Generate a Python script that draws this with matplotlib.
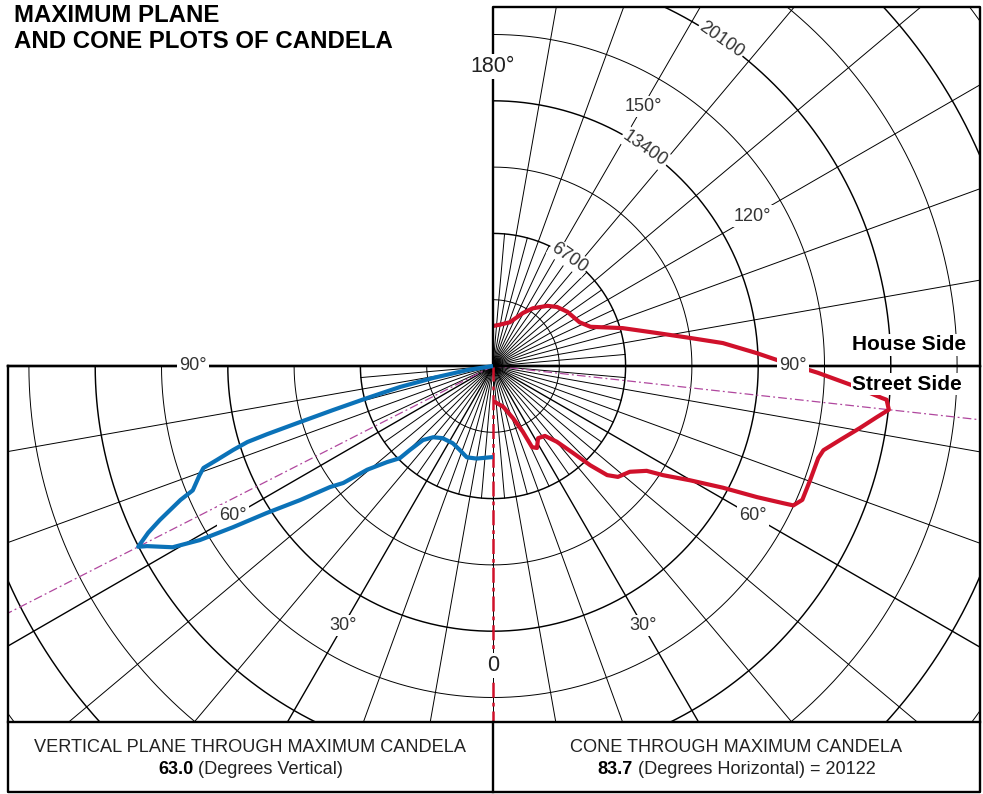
import numpy as np
import matplotlib
matplotlib.use("Agg")
import matplotlib.pyplot as plt
from matplotlib.patches import Rectangle

plt.rcParams['font.family'] = ['Liberation Sans', 'DejaVu Sans']

# vertical plane through maximum candela: degrees vertical (0 = nadir) and candela
plane_deg = [0, 10, 16, 22, 27.5, 35, 40, 43.4, 44.7, 45.3, 47.8, 50.5, 52, 53.4, 55.2, 57,
             58.2, 59.3, 60.5, 62.5, 63, 64.2, 65.2, 66.8, 67.5, 69.6, 70.6, 71.2, 72.1,
             72.8, 73.2, 73.8, 74.6, 75.7, 77.3, 78.7, 81, 90]
plane_cd = [4600, 4750, 4800, 4550, 4400, 4450, 4700, 5150, 5960, 6620, 7230, 8240, 9600,
            10260, 11870, 13640, 15460, 17230, 18600, 19710, 20122, 19350, 18540, 17180,
            16420, 15820, 15510, 14750, 13790, 12990, 11930, 10160, 8390, 6570, 4800, 3080,
            1310, 0]

# cone through maximum candela: degrees horizontal (0 .. 180) and candela
cone_deg = [0, 3, 14, 21, 24.4, 25.7, 28.2, 32, 36.6, 40.1, 42.6, 44.4, 46.3, 48.4, 52.3,
            55.7, 57.3, 59.9, 62.1, 63.6, 64.7, 65.1, 66.6, 70.2, 74.2, 75.7, 78, 80.4,
            82.4, 83.7, 85.1, 85.3, 87, 88.8, 91, 92.8, 95.7, 98.1, 101.4, 106.3, 111.9,
            116.8, 126.1, 132.7, 138, 145.4, 150.5, 158.9, 170.3, 180]
cone_cd = [1820, 1820, 2120, 2830, 3640, 4550, 4700, 4300, 4400, 5000, 5960, 7020, 7980,
           8440, 8740, 9400, 10210, 11520, 13140, 14910, 16220, 16730, 17030, 17030, 17080,
           17230, 17940, 18800, 19560, 20122, 19960, 19710, 18090, 16420, 14500, 13340,
           11670, 10060, 8440, 6820, 5310, 4900, 4650, 4400, 4090, 3540, 3080, 2370, 2120,
           2020]

ring_step = 3350
ring_labels = [6700, 13400, 20100]
max_vert = 63.0
max_horiz = 83.7
max_cd = 20122

W, H = 983, 794
cx, cy = 493, 366
K = 66.3 / ring_step  # pixels per candela


def px(v):
    return v / K


fig = plt.figure(figsize=(W / 100, H / 100), dpi=100)
ax = fig.add_axes([0, 0, 1, 1])
ax.set_xlim(px(-cx), px(W - cx))
ax.set_ylim(px(-(H - cy)), px(cy))
ax.axis('off')

left, right, top = px(8 - cx), px(980 - cx), px(cy - 7)
sep, bottom = px(cy - 722), px(cy - 792)

lower_clip = Rectangle((left, sep), right - left, -sep, transform=ax.transData)
upper_clip = Rectangle((0, 0), right, top, transform=ax.transData)

# rings
t = np.radians(np.linspace(0, 360, 1441))
for k in range(1, 10):
    r = k * ring_step
    lw = 1.05 if k % 2 == 0 else 0.7
    for clip in (lower_clip, upper_clip):
        ln, = ax.plot(r * np.sin(t), -r * np.cos(t), color='black', lw=lw, zorder=1)
        ln.set_clip_path(clip)

# spokes
for a in range(-90, 181, 5):
    if a % 10 == 0:
        r = px(800)
    else:
        r = 6700
    lw = 1.0 if abs(a) in (30, 60) else 0.7
    ar = np.radians(a)
    ln, = ax.plot([0, r * np.sin(ar)], [0, -r * np.cos(ar)], color='black', lw=lw, zorder=1)
    ln.set_clip_path(upper_clip if a > 90 else lower_clip)

# max direction lines
for d in (-max_vert, max_horiz):
    ar = np.radians(d)
    ln, = ax.plot([0, px(800) * np.sin(ar)], [0, -px(800) * np.cos(ar)], color='#b0479e',
                  lw=0.9, dashes=[7, 2.5, 1.5, 2.5], zorder=2)
    ln.set_clip_path(lower_clip)
ax.plot([0, 0], [0, sep], color='#d0112b', lw=1.8, dashes=[6, 2, 1.5, 2], zorder=2)

# frames
fk = dict(color='black', lw=1.7, zorder=5, solid_capstyle='projecting')
ax.plot([left, right], [0, 0], **fk)
ax.plot([0, 0, right, right], [0, top, top, 0], **fk)
ax.plot([left, left, right, right, left], [0, bottom, bottom, 0, 0], **fk)
ax.plot([left, right], [sep, sep], **fk)
ax.plot([0, 0], [sep, bottom], **fk)

# curves
pa = np.radians(plane_deg)
ax.plot(-np.array(plane_cd) * np.sin(pa), -np.array(plane_cd) * np.cos(pa),
        color='#0b72b8', lw=3, zorder=7, solid_joinstyle='round', solid_capstyle='butt')
ca = np.radians(cone_deg)
ax.plot(np.array(cone_cd) * np.sin(ca), -np.array(cone_cd) * np.cos(ca),
        color='#d0112b', lw=3, zorder=4, solid_joinstyle='round', solid_capstyle='butt')

# angle labels
box = dict(fc='white', ec='none', pad=1.5)
lab_r = 15150
for a, s in [(-90, '90°'), (-60, '60°'), (-30, '30°'), (30, '30°'), (60, '60°'),
             (90, '90°'), (120, '120°'), (150, '150°')]:
    ar = np.radians(a)
    ax.text(lab_r * np.sin(ar), -lab_r * np.cos(ar), s, ha='center', va='center',
            fontsize=13, color='#333333', bbox=box, zorder=6)
ax.text(0, lab_r, '180°', ha='center', va='center', fontsize=15.5, color='#222222',
        bbox=box, zorder=6)
ax.text(0, -lab_r, '0', ha='center', va='center', fontsize=15.5, color='#222222',
        bbox=box, zorder=6)

# ring value labels
ar = np.radians(145)
for v in ring_labels:
    ax.text(v * np.sin(ar), -v * np.cos(ar), str(v), ha='center', va='center',
            rotation=-35, rotation_mode='anchor', fontsize=13, color='#333333',
            bbox=dict(fc='white', ec='none', pad=1), zorder=6)

ax.text(px(909 - cx), px(cy - 345), 'House Side', ha='center', va='center',
        fontsize=15, fontweight='bold', bbox=dict(fc='white', ec='none', pad=1), zorder=6)
ax.text(px(907 - cx), px(cy - 384), 'Street Side', ha='center', va='center',
        fontsize=15, fontweight='bold', bbox=dict(fc='white', ec='none', pad=1), zorder=6)

fig.text(14 / W, 1 - 4 / H, 'MAXIMUM PLANE\nAND CONE PLOTS OF CANDELA', ha='left', va='top',
         fontsize=17.3, fontweight='bold', linespacing=1.15)

# bottom captions
cap_fs = 13.1
ax.text(left / 2, px(cy - 747), 'VERTICAL PLANE THROUGH MAXIMUM CANDELA',
        ha='center', va='center', fontsize=cap_fs, color='#222222')
ax.text(right / 2, px(cy - 747), 'CONE THROUGH MAXIMUM CANDELA',
        ha='center', va='center', fontsize=cap_fs, color='#222222')

renderer = fig.canvas.get_renderer()


def mixed(xc, y, bold, rest):
    t1 = ax.text(0, y, bold, ha='left', va='center', fontsize=cap_fs, fontweight='bold')
    t2 = ax.text(0, y, rest, ha='left', va='center', fontsize=cap_fs, color='#222222')
    w1 = t1.get_window_extent(renderer).width
    w2 = t2.get_window_extent(renderer).width
    x0 = xc - px(w1 + w2) / 2
    t1.set_x(x0)
    t2.set_x(x0 + px(w1))


mixed(left / 2, px(cy - 770), f'{max_vert:.1f}', ' (Degrees Vertical)')
mixed(right / 2, px(cy - 770), f'{max_horiz:.1f}', f' (Degrees Horizontal) = {max_cd}')

fig.savefig('out.png', dpi=100)
